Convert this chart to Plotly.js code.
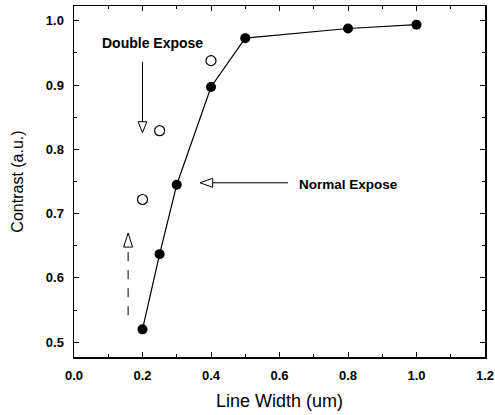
<!DOCTYPE html>
<html>
<head>
<meta charset="utf-8">
<script src="https://cdn.plot.ly/plotly-3.0.1.min.js"></script>
<style>html,body{margin:0;padding:0;background:#fff;}#chart{width:495px;height:415px;}</style>
</head>
<body>
<div id="chart"></div>
<script>
// Normal expose (filled circles, connected)
const normalWidth = [0.2, 0.25, 0.3, 0.4, 0.5, 0.8, 1.0];
const normalContrast = [0.520, 0.637, 0.745, 0.897, 0.973, 0.988, 0.994];
// Double expose (open circles)
const doubleWidth = [0.2, 0.25, 0.4];
const doubleContrast = [0.722, 0.829, 0.938];

const xTicks = [0.0, 0.2, 0.4, 0.6, 0.8, 1.0, 1.2];
const xTickLabels = ['0.0', '0.2', '0.4', '0.6', '0.8', '1.0', '1.2'];
const yTicks = [0.5, 0.6, 0.7, 0.8, 0.9, 1.0];
const yTickLabels = ['0.5', '0.6', '0.7', '0.8', '0.9', '1.0'];

const font = 'Liberation Sans, Arial, Helvetica, sans-serif';

const traces = [
  {
    x: normalWidth, y: normalContrast, type: 'scatter', mode: 'lines+markers',
    line: {color: '#000', width: 1.2},
    marker: {color: '#000', size: 10, symbol: 'circle'},
    showlegend: false, cliponaxis: false
  },
  {
    x: doubleWidth, y: doubleContrast, type: 'scatter', mode: 'markers',
    marker: {color: '#000', size: 10, symbol: 'circle-open', line: {color: '#000', width: 1.2}},
    showlegend: false, cliponaxis: false
  }
];

const axisCommon = {
  showgrid: false, zeroline: false, showline: true, linecolor: '#000', linewidth: 1.5,
  mirror: 'ticks', ticks: 'inside', ticklen: 5, tickwidth: 1, tickcolor: '#000',
  tickfont: {family: font, size: 13, color: '#000', weight: 'bold'}
};

const layout = {
  width: 495, height: 415,
  margin: {l: 74, r: 10, t: 6, b: 58},
  paper_bgcolor: '#fff', plot_bgcolor: '#fff',
  xaxis: Object.assign({}, axisCommon, {
    range: [0, 1.2], tickvals: xTicks, ticktext: xTickLabels,
    minor: {ticks: 'inside', dtick: 0.1, tick0: 0, ticklen: 3, tickcolor: '#000'},
    ticklabelstandoff: 6,
    title: {text: 'Line Width (um)', font: {family: font, size: 18, color: '#000'}, standoff: 12}
  }),
  yaxis: Object.assign({}, axisCommon, {
    range: [0.477, 1.023], tickvals: yTicks, ticktext: yTickLabels,
    minor: {ticks: 'inside', dtick: 0.05, tick0: 0, ticklen: 3, tickcolor: '#000'},
    ticklabelstandoff: 6,
    title: {text: 'Contrast (a.u.)', font: {family: font, size: 16, color: '#000'}, standoff: 18}
  }),
  shapes: [
    // Double Expose arrow
    {type: 'line', xref: 'x', yref: 'y', x0: 0.2, x1: 0.2, y0: 0.936, y1: 0.843, line: {color: '#000', width: 1}},
    {type: 'path', xref: 'x', yref: 'y', path: 'M 0.187 0.843 L 0.213 0.843 L 0.2 0.826 Z', line: {color: '#000', width: 1}, fillcolor: '#fff'},
    // Normal Expose arrow
    {type: 'line', xref: 'x', yref: 'y', x0: 0.625, x1: 0.405, y0: 0.748, y1: 0.748, line: {color: '#000', width: 1}},
    {type: 'path', xref: 'x', yref: 'y', path: 'M 0.405 0.755 L 0.405 0.741 L 0.368 0.748 Z', line: {color: '#000', width: 1}, fillcolor: '#fff'},
    // dashed upward arrow
    {type: 'line', xref: 'x', yref: 'y', x0: 0.158, x1: 0.158, y0: 0.542, y1: 0.648, line: {color: '#000', width: 1, dash: 'dash'}},
    {type: 'path', xref: 'x', yref: 'y', path: 'M 0.145 0.648 L 0.171 0.648 L 0.158 0.670 Z', line: {color: '#000', width: 1}, fillcolor: '#fff'}
  ],
  annotations: [
    {text: 'Double Expose', x: 0.228, y: 0.966, xref: 'x', yref: 'y', showarrow: false,
     font: {family: font, size: 14, color: '#000', weight: 'bold'}},
    {text: 'Normal Expose', x: 0.80, y: 0.746, xref: 'x', yref: 'y', showarrow: false,
     font: {family: font, size: 13.5, color: '#000', weight: 'bold'}}
  ]
};

Plotly.newPlot('chart', traces, layout, {displayModeBar: false, staticPlot: true});
</script>
</body>
</html>
